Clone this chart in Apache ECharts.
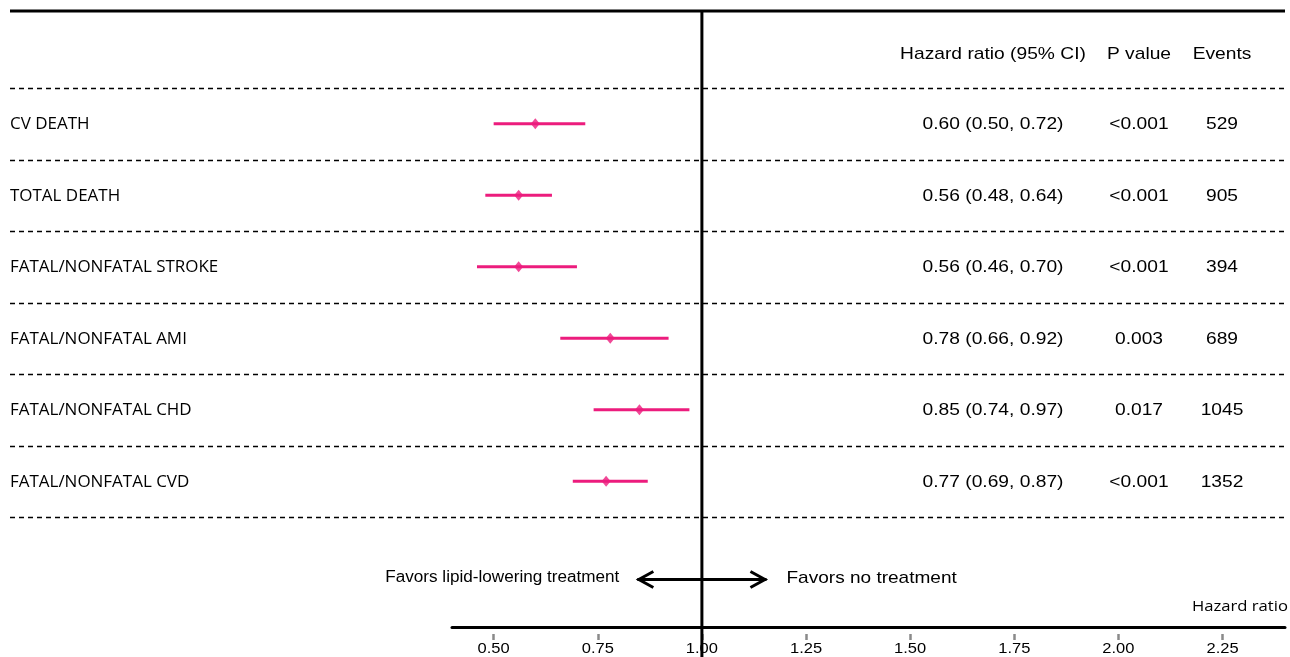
<!DOCTYPE html>
<html>
<head>
<meta charset="utf-8">
<script src="https://cdn.jsdelivr.net/npm/echarts@6/dist/echarts.min.js"></script>
<style>html,body{margin:0;padding:0;background:#fff}#c{width:1290px;height:657px}</style>
</head>
<body>
<div id="c"></div>
<script>
const labels = ['CV DEATH','TOTAL DEATH','FATAL/NONFATAL STROKE','FATAL/NONFATAL AMI','FATAL/NONFATAL CHD','FATAL/NONFATAL CVD'];
const hr = [0.60,0.56,0.56,0.78,0.85,0.77];
const lo = [0.50,0.48,0.46,0.66,0.74,0.69];
const hi = [0.72,0.64,0.70,0.92,0.97,0.87];
const pvals = ['<0.001','<0.001','<0.001','0.003','0.017','<0.001'];
const events = ['529','905','394','689','1045','1352'];
const xTicks = [0.5,0.75,1.0,1.25,1.5,1.75,2.0,2.25];
const xTickLabels = ['0.50','0.75','1.00','1.25','1.50','1.75','2.00','2.25'];
const headers = ['Hazard ratio (95% CI)','P value','Events'];

const PINK = '#EC1C7D';
const SANS = '"Liberation Sans", Arial, sans-serif';
const HUM = '"Open Sans", "Noto Sans", sans-serif';
const INK = '#000';

const chart = echarts.init(document.getElementById('c'), null, {renderer:'canvas'});
const rows = labels.map((_, i) => i + 1);

const xBase = {type:'value', min:0.4, max:2.4, gridIndex:0, position:'bottom', splitLine:{show:false}};
chart.setOption({
  animation:false,
  backgroundColor:'#fff',
  grid:{left:452, right:5, top:88, bottom:140},
  xAxis:[
    Object.assign({}, xBase, {offset:110, axisLine:{show:true, lineStyle:{color:'#000', width:3}}, axisTick:{show:false}, axisLabel:{show:false}}),
    Object.assign({}, xBase, {offset:117, axisLine:{show:false},
      axisTick:{show:true, length:6, customValues:xTicks, lineStyle:{color:'#8a8a8a', width:2.5}},
      axisLabel:{show:false}})
  ],
  yAxis:{type:'value', min:0.5, max:6.5, inverse:true, show:false},
  series:[
    {type:'custom', xAxisIndex:0, yAxisIndex:0,
     data: rows.map((r,i)=>[lo[i], hi[i], r]),
     renderItem:(params, api)=>{
       const a = api.coord([api.value(0), api.value(2)]);
       const b = api.coord([api.value(1), api.value(2)]);
       return {type:'line', shape:{x1:a[0], y1:a[1], x2:b[0], y2:b[1]}, style:{stroke:PINK, lineWidth:3}};
     }},
    {type:'scatter', xAxisIndex:0, yAxisIndex:0, symbol:'diamond', symbolSize:[9,11],
     itemStyle:{color:PINK}, data: rows.map((r,i)=>[hr[i], r])}
  ]
});

function px(x, y){ return chart.convertToPixel({xAxisIndex:0, yAxisIndex:0}, [x, y]); }
function txt(s, x, y, font, align, sx){
  return {type:'text', x:x, y:y, scaleX:sx, style:{text:s, fill:INK, font:font, align:align, verticalAlign:'middle'}};
}
const g = [];
const xRef = px(1.0, 1)[0];
const colX = [993, 1139, 1222];
const F17 = '17px ' + SANS, SX = 1.13;
// top line
g.push({type:'line', shape:{x1:10, y1:11, x2:1285, y2:11}, style:{stroke:'#000', lineWidth:3}});
// dashed separators
for (let k = 0; k <= labels.length; k++) {
  const y = Math.round(px(1, k + 0.5)[1]) + 0.5;
  g.push({type:'line', shape:{x1:10, y1:y, x2:1285, y2:y}, style:{stroke:'#000', lineWidth:1.5, lineDash:[5,4]}});
}
// header
const hy = px(1, 0)[1] + 2;
headers.forEach((h, j) => g.push(txt(h, colX[j], hy, F17, 'center', SX)));
// rows
labels.forEach((lab, i) => {
  const y = px(1, i + 1)[1] + 1;
  g.push(txt(lab, 10, y, '16px ' + HUM, 'left', 1.06));
  const t = hr[i].toFixed(2) + ' (' + lo[i].toFixed(2) + ', ' + hi[i].toFixed(2) + ')';
  g.push(txt(t, colX[0], y, F17, 'center', SX));
  g.push(txt(pvals[i], colX[1], y, F17, 'center', SX));
  g.push(txt(events[i], colX[2], y, F17, 'center', SX));
});
// tick labels
xTicks.forEach((v, i) => g.push(txt(xTickLabels[i], px(v, 1)[0], 649, '15px ' + SANS, 'center', 1.1)));
// reference line
g.push({type:'line', shape:{x1:xRef, y1:11, x2:xRef, y2:657}, style:{stroke:'#000', lineWidth:3}, z:10});
// arrows
const ay = 579.5;
const aL = px(0.845, 1)[0], aR = px(1.155, 1)[0];
g.push({type:'line', shape:{x1:aL, y1:ay, x2:aR, y2:ay}, style:{stroke:'#000', lineWidth:3}});
g.push({type:'polyline', shape:{points:[[aL+16, ay-8],[aL+1.5, ay],[aL+16, ay+8]]}, style:{stroke:'#000', lineWidth:3, fill:null}});
g.push({type:'polyline', shape:{points:[[aR-16, ay-8],[aR-1.5, ay],[aR-16, ay+8]]}, style:{stroke:'#000', lineWidth:3, fill:null}});
g.push(txt('Favors lipid-lowering treatment', aL - 18, 578, '16px ' + SANS, 'right', 1.07));
g.push(txt('Favors no treatment', aR + 20, 578, F17, 'left', 1.12));
// axis name
g.push(txt('Hazard ratio', 1288, 607, '15px ' + HUM, 'right', 1.11));
chart.setOption({graphic:g.map(e => Object.assign({silent:true}, e))});
</script>
</body>
</html>
